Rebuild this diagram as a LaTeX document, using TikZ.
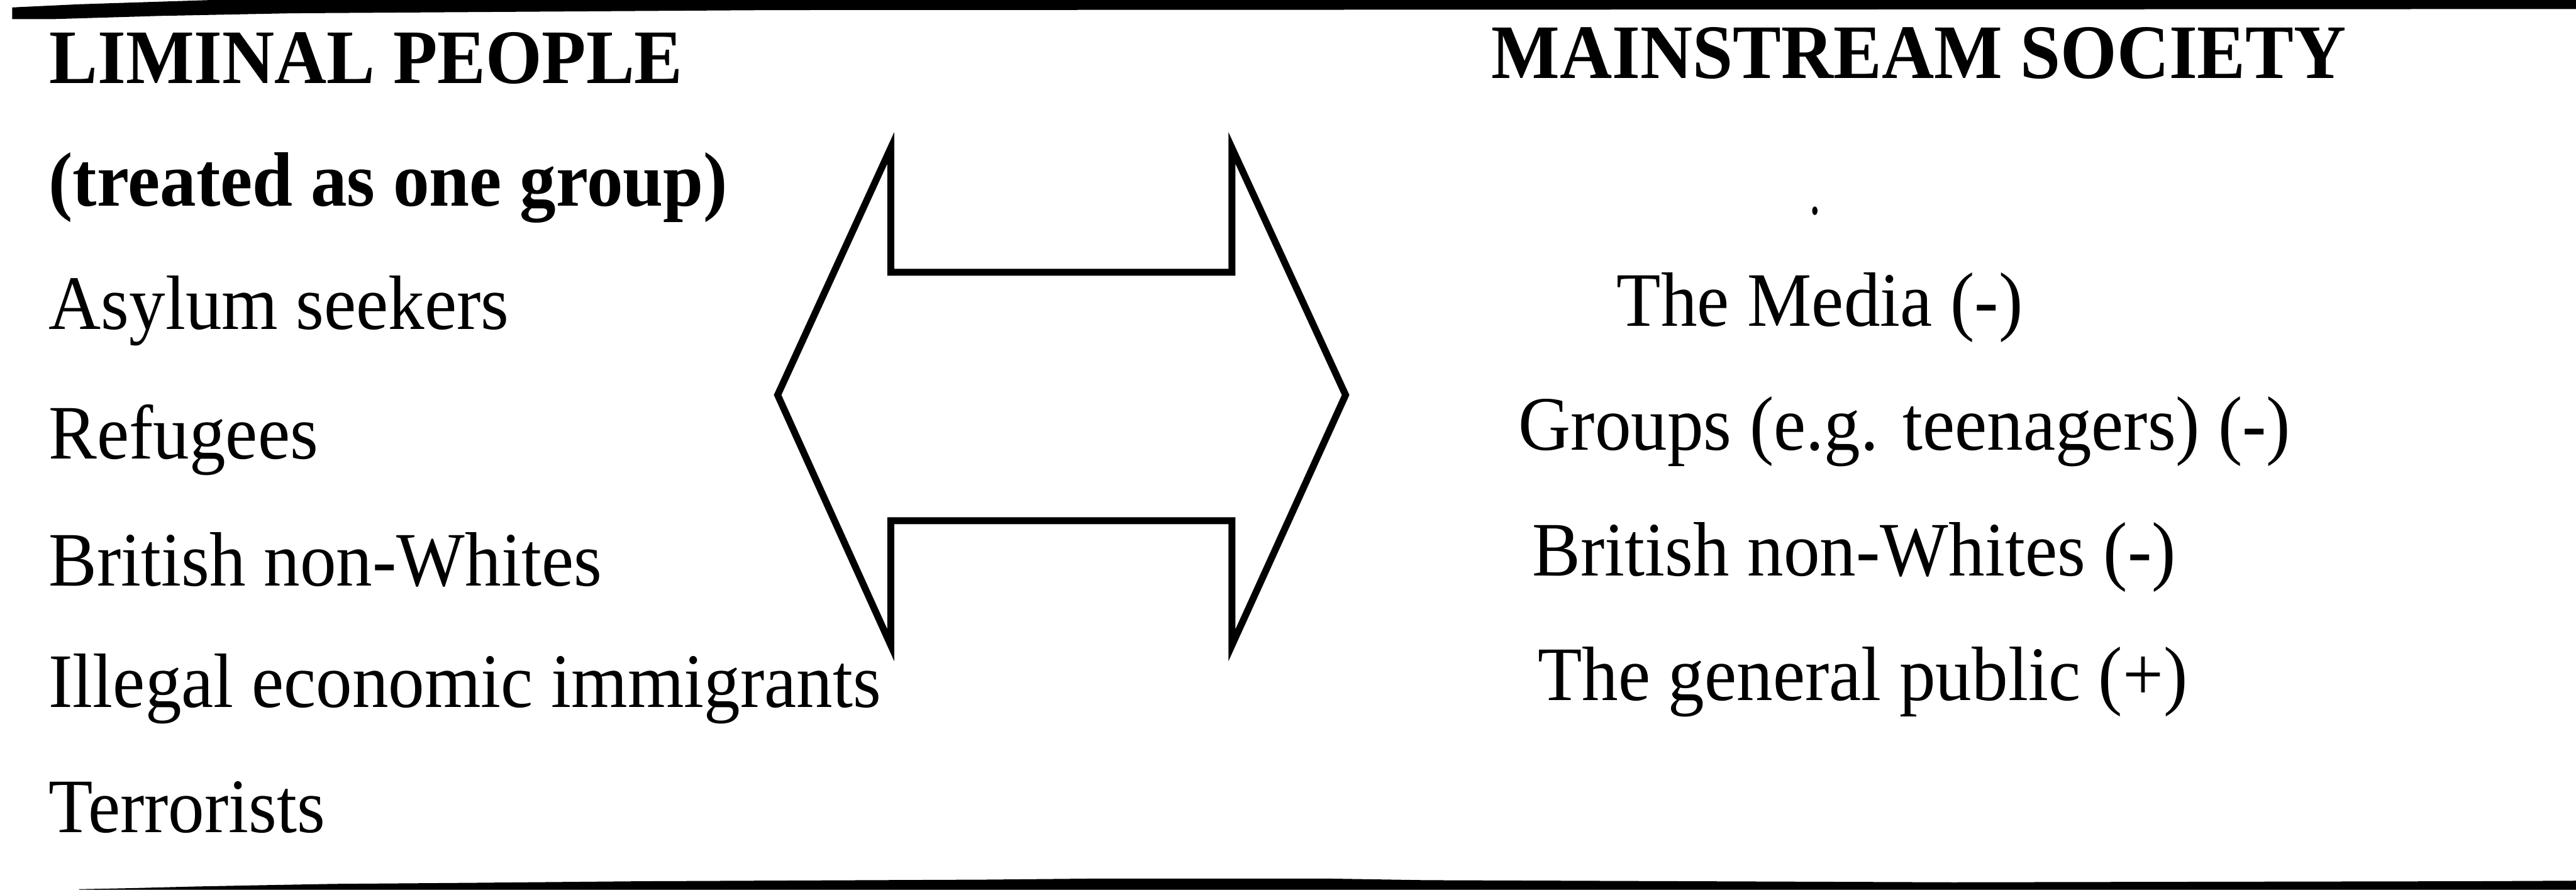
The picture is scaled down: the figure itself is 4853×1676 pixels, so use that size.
\documentclass[tikz,border=0pt]{standalone}
\usepackage{fontspec}
\setmainfont{Liberation Serif}[FakeStretch=0.94]
\begin{document}
\begin{tikzpicture}[x=0.01cm,y=-0.01cm,
  lbl/.style={anchor=base west,inner sep=0pt,outer sep=0pt,font=\fontsize{41.26}{50}\selectfont},
  hdr/.style={lbl,font=\fontsize{41.26}{50}\selectfont\bfseries},
  arrowline/.style={draw=black,line width=0.13cm,line join=miter},
  rulefill/.style={fill=black,draw=none}]
\useasboundingbox (0,0) rectangle (4853,1676);
% top rule
\fill[rulefill] (23,14) -- (150,8) -- (400,0) -- (4853,0) -- (4853,17) -- (1460,19) -- (550,25) -- (300,30) -- (100,36) -- (23,36) -- cycle;
% bottom rule
\fill[rulefill] (149,1676) -- (149,1675) -- (248,1673) -- (366,1670) -- (466,1668) -- (630,1665) -- (885,1663) -- (1211,1660) -- (1854,1657) -- (2065,1655) -- (2500,1655) -- (2686,1658) -- (3680,1662) -- (4657,1660) -- (4853,1659) -- (4853,1676) -- cycle;
% left column
\node[hdr] (lim) at (93,157) {LIMINAL PEOPLE};
\node[hdr] (treated) at (92,388) {(treated as one group)};
\node[lbl] (asy) at (92,620) {Asylum seekers};
\node[lbl] (ref) at (92,864) {Refugees};
\node[lbl] (bnw) at (92,1104) {British non-Whites};
\node[lbl] (ill) at (92,1332) {Illegal economic immigrants};
\node[lbl] (ter) at (92,1568) {Terrorists};
% right column
\node[hdr] (main) at (2810,147) {MAINSTREAM SOCIETY};
\node[lbl] (media) at (3046,614) {The Media (-)};
\node[lbl] (groups) at (2861,848) {Groups (e.g. teenagers) (-)};
\node[lbl] (bnwr) at (2887,1085) {British non-Whites (-)};
\node[lbl] (pub) at (2897,1319) {The general public (+)};
% stray dot
\fill (3419,397) ellipse (5 and 8);
% double arrow
\draw[arrowline] (1678,279) -- (1678,513) -- (2321,513) -- (2321,279) -- (2535,744) -- (2321,1215) -- (2321,981) -- (1678,981) -- (1678,1215) -- (1465,744) -- cycle;
\end{tikzpicture}
\end{document}
